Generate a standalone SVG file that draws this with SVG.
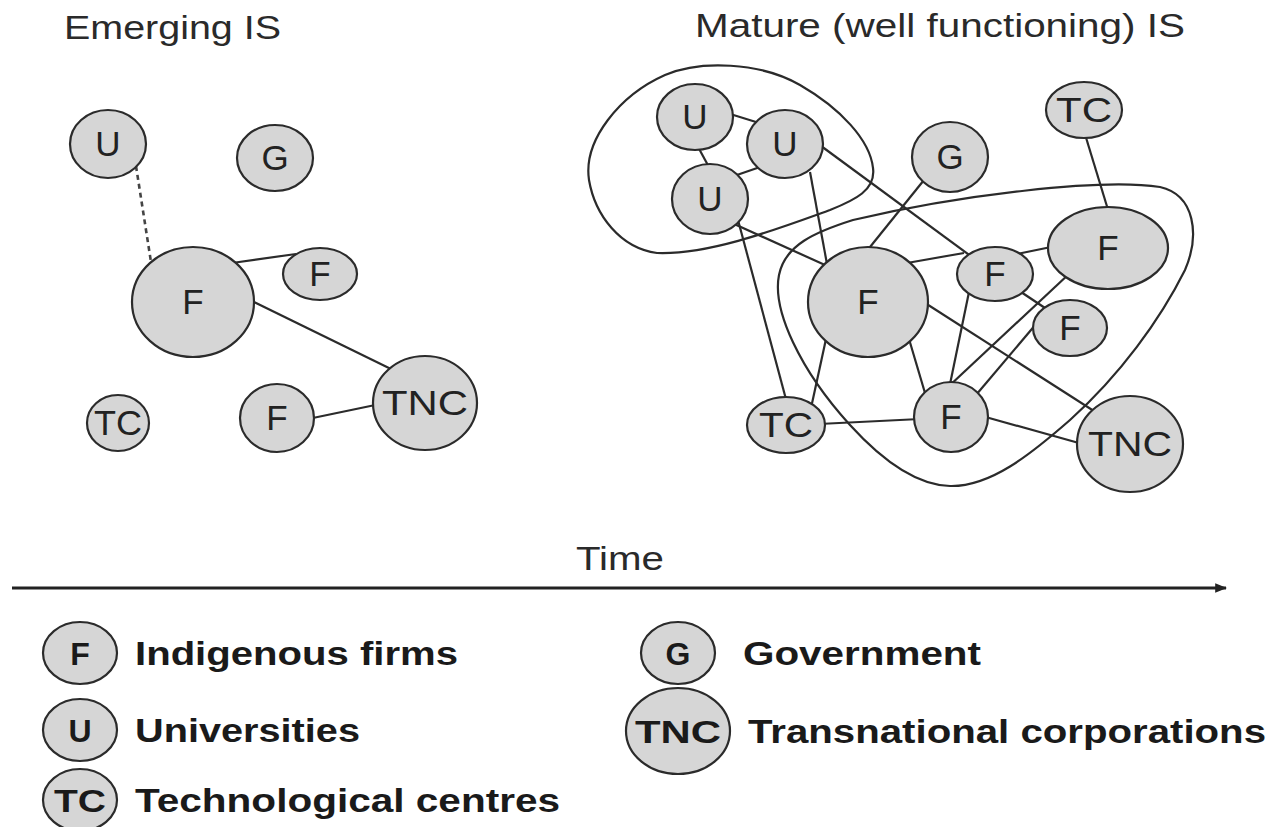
<svg xmlns="http://www.w3.org/2000/svg" width="1272" height="827" viewBox="0 0 1272 827">
<defs>
<style>
.nd{fill:#d6d6d6;stroke:#2b2b2b;stroke-width:2.2}
.lbl{font-family:"Liberation Sans",Arial,sans-serif;font-size:35px;fill:#222;text-anchor:middle}
.lgl{font-family:"Liberation Sans",Arial,sans-serif;font-size:32px;font-weight:bold;fill:#1a1a1a;text-anchor:middle}
.lgt{font-family:"Liberation Sans",Arial,sans-serif;font-size:33px;font-weight:bold;fill:#1a1a1a}
.ttl{font-family:"Liberation Sans",Arial,sans-serif;font-size:34px;fill:#2a2a2a}
.e{stroke:#2b2b2b;stroke-width:2.2;fill:none}
.blob{stroke:#2b2b2b;stroke-width:2.2;fill:none}
</style>
<marker id="arr" viewBox="0 0 10 10" refX="9" refY="5" markerWidth="4" markerHeight="4" orient="auto">
<path d="M0,1 L10,5 L0,9 z" fill="#222"/>
</marker>
</defs>
<rect width="1272" height="827" fill="#ffffff"/>

<text class="ttl" x="64" y="39" textLength="217" lengthAdjust="spacingAndGlyphs">Emerging IS</text>
<text class="ttl" x="695" y="37" textLength="490" lengthAdjust="spacingAndGlyphs">Mature (well functioning) IS</text>

<g id="clusters">
<path class="blob" d="M657,253 C620,248 595,215 589,180 C583,140 620,95 665,75 C700,60 760,62 800,85 C840,108 870,140 873,168 C876,190 855,200 830,210 C780,228 710,255 657,253 Z"/>
<path class="blob" d="M853,220 C815,232 785,245 779,275 C772,310 800,370 850,425 C880,458 915,485 950,486 C990,487 1030,455 1070,420 C1120,375 1160,320 1185,270 C1200,235 1195,195 1160,187 C1100,178 960,195 853,220 Z"/>
</g>

<g id="connectors">
<line x1="136" y1="166" x2="151" y2="262" stroke="#444" stroke-width="2.6" stroke-dasharray="5,4"/>
<line class="e" x1="232" y1="263" x2="296" y2="254"/>
<line class="e" x1="248" y1="299" x2="393" y2="370"/>
<line class="e" x1="308" y1="419" x2="380" y2="404"/>

<line class="e" x1="727" y1="113" x2="756" y2="122"/>
<line class="e" x1="697" y1="145" x2="710" y2="169"/>
<line class="e" x1="734" y1="176" x2="763" y2="166"/>
<line class="e" x1="817" y1="143" x2="972" y2="257"/>
<line class="e" x1="810" y1="172" x2="827" y2="264"/>
<line class="e" x1="732" y1="223" x2="825" y2="265"/>
<line class="e" x1="738" y1="220" x2="787" y2="403"/>
<line class="e" x1="924" y1="180" x2="866" y2="252"/>
<line class="e" x1="1084" y1="131" x2="1109" y2="213"/>
<line class="e" x1="907" y1="263" x2="964" y2="253"/>
<line class="e" x1="1017" y1="254" x2="1056" y2="246"/>
<line class="e" x1="1018" y1="290" x2="1045" y2="308"/>
<line class="e" x1="969" y1="292" x2="949" y2="389"/>
<line class="e" x1="909" y1="339" x2="925" y2="393"/>
<line class="e" x1="826" y1="339" x2="811" y2="408"/>
<line class="e" x1="922" y1="301" x2="1097" y2="413"/>
<line class="e" x1="948" y1="387" x2="1070" y2="273"/>
<line class="e" x1="976" y1="395" x2="1042" y2="317"/>
<line class="e" x1="982" y1="416" x2="1086" y2="445"/>
<line class="e" x1="819" y1="424" x2="920" y2="419"/>
</g>

<g id="left-U"><ellipse class="nd" cx="108" cy="144" rx="38" ry="34"/><text class="lbl" x="108" y="156">U</text></g>
<g id="left-G"><ellipse class="nd" cx="275" cy="158" rx="38" ry="33"/><text class="lbl" x="275" y="170">G</text></g>
<g id="left-F1"><ellipse class="nd" cx="193" cy="302" rx="61" ry="55"/><text class="lbl" x="193" y="314">F</text></g>
<g id="left-F2"><ellipse class="nd" cx="320" cy="274" rx="37" ry="26"/><text class="lbl" x="320" y="286">F</text></g>
<g id="left-TNC"><ellipse class="nd" cx="425" cy="403" rx="52" ry="47"/><text class="lbl" x="425" y="415" textLength="86" lengthAdjust="spacingAndGlyphs">TNC</text></g>
<g id="left-TC"><ellipse class="nd" cx="118" cy="423" rx="31" ry="28"/><text class="lbl" x="118" y="435" textLength="48" lengthAdjust="spacingAndGlyphs">TC</text></g>
<g id="left-F3"><ellipse class="nd" cx="277" cy="418" rx="37" ry="34"/><text class="lbl" x="277" y="430">F</text></g>

<g id="right-U1"><ellipse class="nd" cx="695" cy="117" rx="38" ry="33"/><text class="lbl" x="695" y="129">U</text></g>
<g id="right-U2"><ellipse class="nd" cx="785" cy="144" rx="38" ry="34"/><text class="lbl" x="785" y="156">U</text></g>
<g id="right-U3"><ellipse class="nd" cx="710" cy="199" rx="38" ry="35"/><text class="lbl" x="710" y="211">U</text></g>
<g id="right-G"><ellipse class="nd" cx="950" cy="157" rx="38" ry="35"/><text class="lbl" x="950" y="169">G</text></g>
<g id="right-TC1"><ellipse class="nd" cx="1084" cy="110" rx="38" ry="28"/><text class="lbl" x="1084" y="122" textLength="56" lengthAdjust="spacingAndGlyphs">TC</text></g>
<g id="right-F1"><ellipse class="nd" cx="868" cy="302" rx="60" ry="55"/><text class="lbl" x="868" y="314">F</text></g>
<g id="right-F2"><ellipse class="nd" cx="995" cy="274" rx="38" ry="27"/><text class="lbl" x="995" y="286">F</text></g>
<g id="right-F3"><ellipse class="nd" cx="1108" cy="248" rx="60" ry="41"/><text class="lbl" x="1108" y="260">F</text></g>
<g id="right-F4"><ellipse class="nd" cx="1070" cy="328" rx="37" ry="28"/><text class="lbl" x="1070" y="340">F</text></g>
<g id="right-F5"><ellipse class="nd" cx="951" cy="417" rx="37" ry="35"/><text class="lbl" x="951" y="429">F</text></g>
<g id="right-TC2"><ellipse class="nd" cx="786" cy="425" rx="39" ry="28"/><text class="lbl" x="786" y="437" textLength="54" lengthAdjust="spacingAndGlyphs">TC</text></g>
<g id="right-TNC"><ellipse class="nd" cx="1130" cy="444" rx="53" ry="48"/><text class="lbl" x="1130" y="456" textLength="84" lengthAdjust="spacingAndGlyphs">TNC</text></g>

<g id="time-axis">
<line x1="12" y1="588" x2="1226" y2="588" stroke="#222" stroke-width="3" marker-end="url(#arr)"/>
<text class="ttl" x="576" y="570" font-size="32" textLength="88" lengthAdjust="spacingAndGlyphs">Time</text>
</g>

<g id="legend-F"><ellipse class="nd" cx="80" cy="653" rx="37" ry="31"/><text class="lgl" x="80" y="665">F</text><text class="lgt" x="135" y="665" textLength="323" lengthAdjust="spacingAndGlyphs">Indigenous firms</text></g>
<g id="legend-U"><ellipse class="nd" cx="80" cy="730" rx="37" ry="31"/><text class="lgl" x="80" y="742">U</text><text class="lgt" x="135" y="742" textLength="225" lengthAdjust="spacingAndGlyphs">Universities</text></g>
<g id="legend-TC"><ellipse class="nd" cx="80" cy="800" rx="37" ry="31"/><text class="lgl" x="80" y="812" textLength="52" lengthAdjust="spacingAndGlyphs">TC</text><text class="lgt" x="135" y="812" textLength="425" lengthAdjust="spacingAndGlyphs">Technological centres</text></g>
<g id="legend-G"><ellipse class="nd" cx="678" cy="653" rx="37" ry="31"/><text class="lgl" x="678" y="665">G</text><text class="lgt" x="743" y="665" textLength="238" lengthAdjust="spacingAndGlyphs">Government</text></g>
<g id="legend-TNC"><ellipse class="nd" cx="678" cy="731" rx="52" ry="43"/><text class="lgl" x="678" y="743" textLength="86" lengthAdjust="spacingAndGlyphs">TNC</text><text class="lgt" x="748" y="743" textLength="518" lengthAdjust="spacingAndGlyphs">Transnational corporations</text></g>
</svg>
